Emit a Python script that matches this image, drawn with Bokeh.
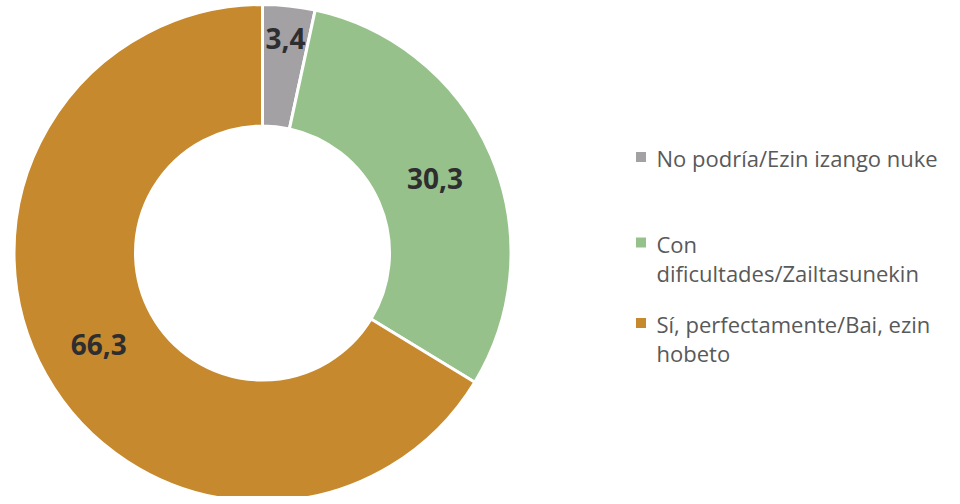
import math
from bokeh.plotting import figure
from bokeh.models import Range1d, ColumnDataSource
from bokeh.core.properties import value
from bokeh.embed import file_html
from bokeh.resources import INLINE

categories = ["No podría/Ezin izango nuke", "Con dificultades/Zailtasunekin", "Sí, perfectamente/Bai, ezin hobeto"]
legend_lines = [["No podría/Ezin izango nuke"], ["Con", "dificultades/Zailtasunekin"], ["Sí, perfectamente/Bai, ezin", "hobeto"]]
values = [3.4, 30.3, 66.3]
labels = ["3,4", "30,3", "66,3"]
colors = ["#a3a1a4", "#97c18b", "#c7892d"]

W, H = 944, 496
p = figure(width=W, height=H, output_backend="svg", toolbar_location=None,
           x_range=Range1d(0, W), y_range=Range1d(0, H), min_border=0)
p.axis.visible = False
p.grid.visible = False
p.outline_line_color = None
p.background_fill_color = "white"

cx, cy = 262, H - 252.5
r_out, r_in = 248.5, 127

total = sum(values)
starts, ends = [], []
acc = 0.0
for v in values:
    a0 = math.pi / 2 - 2 * math.pi * acc / total
    acc += v
    a1 = math.pi / 2 - 2 * math.pi * acc / total
    starts.append(a1)
    ends.append(a0)

src = ColumnDataSource(dict(x=[cx] * 3, y=[cy] * 3, start=starts, end=ends, color=colors))
p.annular_wedge(x="x", y="y", inner_radius=r_in, outer_radius=r_out, inner_radius_units="screen",
                outer_radius_units="screen", start_angle="start", end_angle="end",
                fill_color="color", line_color="white", line_width=3, source=src)

# data labels
lx, ly = [], []
for i, v in enumerate(values):
    mid = (starts[i] + ends[i]) / 2
    rr = (r_in + r_out) / 2
    if v < 5:
        rr = r_out - 33
    lx.append(cx + rr * math.cos(mid))
    ly.append(cy + rr * math.sin(mid))
p.text(x=lx, y=ly, text=labels, text_font=value("Open Sans"), text_font_style="bold",
       text_font_size="28px", text_color="#2e2e30", text_align="center", text_baseline="middle")

# legend
leg_x, sq_x = 656, 640.5
sq_centers = [156.5, 242, 322.5]
line_h = 29
for i in range(len(categories)):
    p.scatter(x=[sq_x], y=[H - sq_centers[i]], marker="square", size=10,
              fill_color=colors[i], line_color=None)
    for j, t in enumerate(legend_lines[i]):
        p.text(x=[leg_x], y=[H - (sq_centers[i] + 1 + j * line_h)], text=[t], text_font=value("Open Sans"),
               text_font_size="22px", text_color="#595959", text_align="left", text_baseline="middle")

open("out.html", "w").write(file_html(p, INLINE))
